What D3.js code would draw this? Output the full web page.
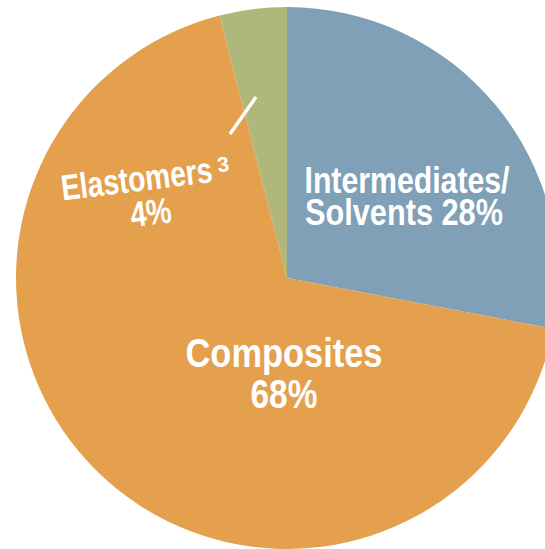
<!DOCTYPE html>
<html><head><meta charset="utf-8">
<script src="https://cdn.jsdelivr.net/npm/d3@7"></script>
<style>
html,body{margin:0;padding:0;background:#fff;overflow:hidden}
text{font-family:"Liberation Sans Narrow","Arial Narrow","Liberation Sans",sans-serif;font-weight:bold;fill:#fff}
</style></head>
<body>
<svg id="chart" width="545" height="549"></svg>
<script>
const categories = ["Intermediates/Solvents", "Composites", "Elastomers"];
const values = [28, 68, 4];
const colors = ["#7fa0b6", "#e4a04d", "#afb77b"];

const cx = 287, cy = 278, R = 271;

const svg = d3.select("#chart");
const g = svg.append("g").attr("transform", `translate(${cx},${cy})`);

const pie = d3.pie().sort(null).value(d => d)(values);
const arc = d3.arc().innerRadius(0).outerRadius(R);

g.selectAll("path.slice").data(pie).enter().append("path")
  .attr("class", "slice")
  .attr("d", arc)
  .attr("fill", (d, i) => colors[i]);

// Leader line for Elastomers
g.append("line")
  .attr("x1", 230 - cx).attr("y1", 134 - cy)
  .attr("x2", 256 - cx).attr("y2", 97 - cy)
  .attr("stroke", "#fff").attr("stroke-width", 3.5);

function line(parent, x, y, size, txt, width, anchor) {
  return parent.append("text")
    .attr("x", x).attr("y", y)
    .attr("text-anchor", anchor || "middle")
    .style("font-size", size + "px")
    .attr("textLength", width)
    .attr("lengthAdjust", "spacingAndGlyphs")
    .text(txt);
}

// Intermediates label
line(svg, 407, 193, 37, "Intermediates/", 205);
line(svg, 404, 225, 37, "Solvents " + values[0] + "%", 198);

// Composites label
line(svg, 284, 367, 40, "Composites", 197);
line(svg, 284, 408, 40, values[1] + "%", 67);

// Elastomers label (rotated)
const t3 = svg.append("g").attr("transform", "translate(148,190) rotate(-7)");
line(t3, -86, 0, 36, "Elastomers", 152, "start");
t3.append("text").attr("x", 72).attr("y", -9).style("font-size", "21px").text("3");
line(t3, 0, 35, 36, values[2] + "%", 41);
</script>
</body></html>
